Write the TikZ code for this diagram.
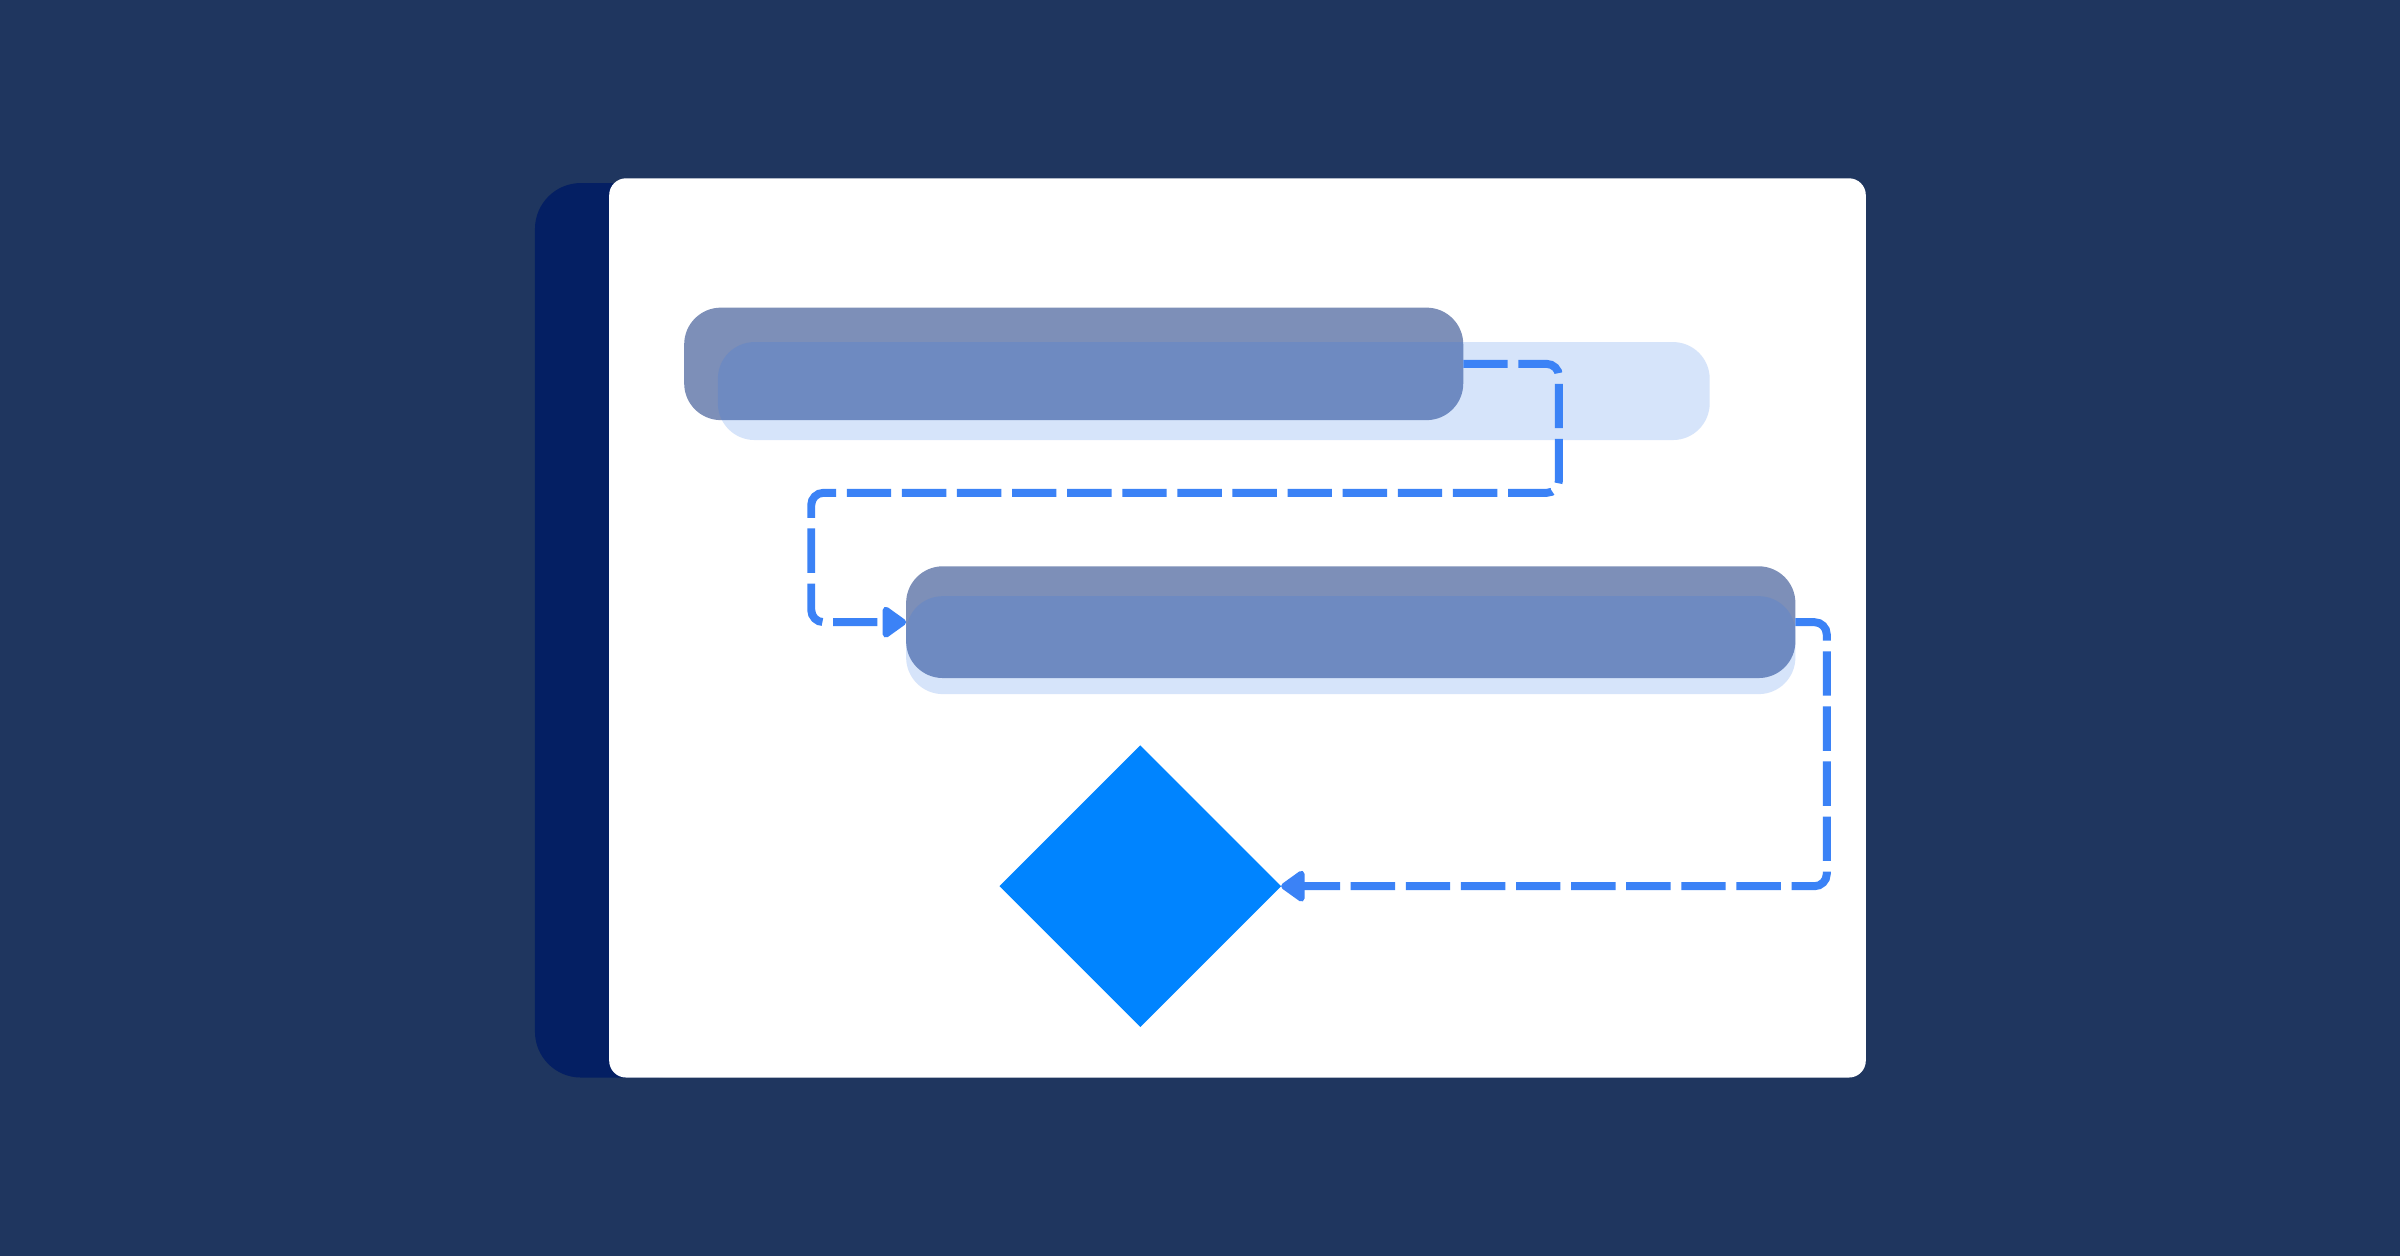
\documentclass[tikz,border=0pt]{standalone}
\usetikzlibrary{shapes.geometric,arrows.meta,positioning}

\definecolor{backdrop}{HTML}{1F365F}
\definecolor{sidenavy}{HTML}{041F63}
\definecolor{taskslate}{HTML}{7D8FB8}
\definecolor{progressblue}{RGB}{50,120,230}
\definecolor{linkblue}{HTML}{3B82F6}
\definecolor{milestoneblue}{HTML}{0084FF}

\begin{document}
\begin{tikzpicture}[x = 0.1mm, y = -0.1mm]

    % Define block styles
    \tikzstyle{task} = [rectangle, fill = taskslate, rounded corners = 2.4mm,
        minimum height = 7.35mm, inner sep = 0, outer sep = 0]
    \tikzstyle{progress} = [rectangle, fill = progressblue, fill opacity = 0.2,
        rounded corners = 2.4mm, minimum height = 6.4mm, inner sep = 0, outer sep = 0]
    \tikzstyle{milestone} = [diamond, fill = milestoneblue, minimum width = 18.4mm,
        minimum height = 18.4mm, inner sep = 0, outer sep = 0]
    \tikzstyle{line} = [draw = linkblue, line width = 0.52mm,
        dash pattern = on 2.9mm off 0.7mm, rounded corners = 0.8mm,
        -{Triangle[length = 1.7mm, width = 2.3mm, round]}]

    % Backdrop and card
    \fill [backdrop] (0,0) rectangle (1568,820.6);
    \fill [sidenavy, rounded corners = 3mm] (349.5,119.6) rectangle (460,704);
    \fill [white, rounded corners = 1.1mm] (398,116.5) rectangle (1219,704);

    % Place nodes
    \node [task, minimum width = 50.9mm] (plan) at (701.5,237.75) {};
    \node [progress, minimum width = 64.8mm] (planbar) at (793,255.5) {};
    \node [task, minimum width = 58.1mm, minimum height = 7.3mm] (build) at (882.5,406.5) {};
    \node [progress, minimum width = 58.1mm] (buildbar) at (882.5,421.5) {};
    \node [milestone] (release) at (745,579) {};

    % Draw edges
    \path [line] (plan.east) -- ++(62.5,0) |- (530,322) |- (build.west);
    \path [line] (build.east) -- ++(20.5,0) |- (release.east);

\end{tikzpicture}
\end{document}
